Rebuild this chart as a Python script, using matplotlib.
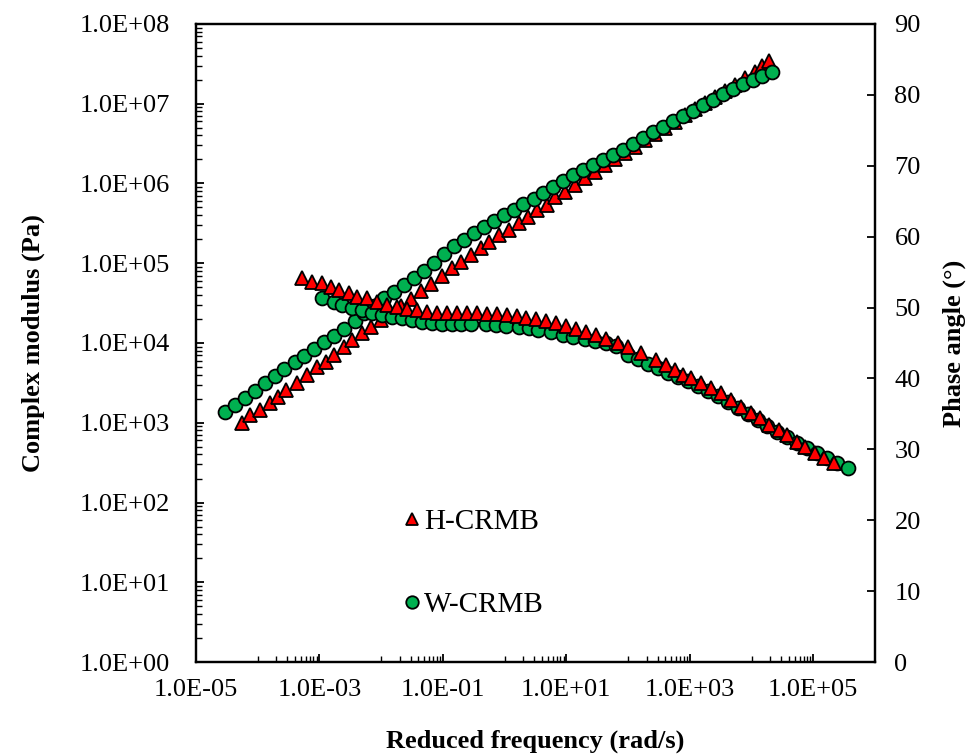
import numpy as np
import matplotlib
matplotlib.use('Agg')
from matplotlib import pyplot as plt
from matplotlib.ticker import FixedLocator, FuncFormatter, MultipleLocator, NullFormatter

plt.rcParams['font.family'] = ['Liberation Serif', 'DejaVu Serif']

# Complex modulus, H-CRMB (rad/s, Pa)
h_freq_g = [5.5e-5, 7.4e-5, 1.08e-4, 1.56e-4, 2.1e-4, 2.9e-4, 4.3e-4, 6.2e-4, 9.0e-4, 1.3e-3,
            1.75e-3, 2.5e-3, 3.4e-3, 4.9e-3, 6.9e-3, 1.0e-2, 1.45e-2, 2.1e-2, 3.05e-2, 4.4e-2,
            6.4e-2, 9.6e-2, 0.14, 0.20, 0.28, 0.41, 0.55, 0.80, 1.16, 1.68,
            2.4, 3.3, 4.8, 6.6, 9.6, 14, 20, 29, 43, 62,
            90, 130, 188, 272, 395, 573, 830, 1200, 1750, 2530,
            3670, 5320, 7700, 11200, 15000, 19500]
h_gstar = [990, 1250, 1450, 1770, 2100, 2580, 3150, 3970, 5000, 5780,
           7080, 8910, 10900, 13300, 15900, 19400, 23800, 29100, 35600, 44900,
           54900, 69200, 87100, 104000, 127000, 155000, 185000, 226000, 261000, 320000,
           380000, 465000, 537000, 677000, 782000, 957000, 1.17e6, 1.39e6, 1.71e6, 2.03e6,
           2.41e6, 2.87e6, 3.51e6, 4.18e6, 4.96e6, 5.90e6, 7.23e6, 8.59e6, 1.02e7, 1.22e7,
           1.45e7, 1.72e7, 2.10e7, 2.50e7, 2.97e7, 3.44e7]

# Complex modulus, W-CRMB
w_freq_g = [2.9e-5, 4.3e-5, 6.2e-5, 8.9e-5, 1.3e-4, 1.9e-4, 2.7e-4, 4.0e-4, 5.7e-4, 8.3e-4,
            1.2e-3, 1.75e-3, 2.5e-3, 3.7e-3, 5.3e-3, 7.7e-3, 1.12e-2, 1.62e-2, 2.35e-2, 3.4e-2,
            4.9e-2, 7.2e-2, 0.104, 0.150, 0.218, 0.316, 0.458, 0.665, 0.964, 1.40,
            2.02, 2.94, 4.26, 6.17, 8.95, 13.0, 18.8, 27.2, 39.5, 57.3,
            83.0, 120, 175, 253, 367, 532, 771, 1120, 1620, 2350,
            3400, 4940, 7160, 10400, 15000, 21800]
w_gstar = [1360, 1670, 2040, 2500, 3150, 3860, 4720, 5780, 6870, 8410,
           10300, 12200, 15000, 18900, 23800, 29100, 36600, 43600, 53400, 65300,
           80000, 101000, 131000, 164000, 196000, 239000, 285000, 339000, 403000, 465000,
           553000, 640000, 760000, 904000, 1.07e6, 1.28e6, 1.48e6, 1.71e6, 1.97e6, 2.28e6,
           2.63e6, 3.13e6, 3.72e6, 4.43e6, 5.11e6, 6.08e6, 7.02e6, 8.11e6, 9.64e6, 1.11e7,
           1.33e7, 1.53e7, 1.77e7, 1.99e7, 2.23e7, 2.50e7]

# Phase angle, H-CRMB (deg)
h_freq_d = [5.3e-4, 7.7e-4, 1.08e-3, 1.56e-3, 2.1e-3, 3.05e-3, 4.1e-3, 5.9e-3, 8.6e-3, 1.25e-2,
            1.81e-2, 2.6e-2, 3.8e-2, 5.5e-2, 8.0e-2, 0.116, 0.168, 0.244, 0.353, 0.513,
            0.743, 1.08, 1.56, 2.26, 3.28, 4.75, 6.9, 10, 14.5, 21,
            30.5, 44, 69, 100, 162, 283, 410, 573, 771, 1040,
            1500, 2180, 3160, 4580, 6650, 9640, 13500, 19500, 28300, 38100,
            55200, 74300, 1.08e5, 1.50e5, 2.18e5]
h_delta = [54.2, 53.6, 53.5, 52.9, 52.5, 52.1, 51.5, 51.3, 50.8, 50.4,
           50.1, 49.8, 49.7, 49.4, 49.2, 49.2, 49.2, 49.2, 49.2, 49.1,
           49.1, 48.9, 48.8, 48.5, 48.4, 48.1, 47.8, 47.4, 47.0, 46.6,
           46.1, 45.6, 45.0, 44.4, 43.6, 42.6, 41.9, 41.2, 40.5, 40.1,
           39.4, 38.7, 37.9, 37.0, 36.0, 35.1, 34.4, 33.4, 32.7, 32.0,
           31.0, 30.3, 29.5, 28.8, 28.1]

# Phase angle, W-CRMB
w_freq_d = [1.12e-3, 1.75e-3, 2.35e-3, 3.4e-3, 4.9e-3, 7.2e-3, 1.04e-2, 1.5e-2, 2.18e-2, 3.16e-2,
            4.6e-2, 6.65e-2, 9.6e-2, 0.14, 0.20, 0.29, 0.49, 0.72, 1.04, 1.68,
            2.44, 3.53, 5.7, 8.95, 13.0, 20.2, 29.4, 44.2, 64, 100,
            145, 210, 305, 442, 640, 929, 1350, 1950, 2830, 4100,
            5940, 8610, 12500, 18100, 26200, 38100, 55200, 80000, 1.16e5, 1.68e5,
            2.44e5, 3.67e5]
w_delta = [51.3, 50.8, 50.4, 49.9, 49.7, 49.2, 48.9, 48.7, 48.5, 48.2,
           48.0, 47.8, 47.7, 47.7, 47.7, 47.7, 47.7, 47.5, 47.4, 47.3,
           47.1, 46.8, 46.6, 46.1, 45.8, 45.6, 45.3, 45.0, 44.6, 43.3,
           42.7, 42.0, 41.5, 40.8, 40.2, 39.6, 38.9, 38.2, 37.5, 36.7,
           35.8, 35.0, 34.1, 33.3, 32.4, 31.7, 30.9, 30.2, 29.5, 28.8,
           28.1, 27.4]

FS = 19
RED = '#FF0000'
GREEN = '#00B050'

fig = plt.figure(figsize=(9.77, 7.56), dpi=100)
ax = fig.add_axes([0.2006, 0.1243, 0.695, 0.844])
ax2 = ax.twinx()

mk = dict(linestyle='none', markeredgecolor='black', markeredgewidth=1.3, markersize=10)
l1, = ax.plot(h_freq_g, h_gstar, marker='^', markerfacecolor=RED, label='H-CRMB', **mk)
l2, = ax.plot(w_freq_g, w_gstar, marker='o', markerfacecolor=GREEN, label='W-CRMB', **mk)
ax2.plot(w_freq_d, w_delta, marker='o', markerfacecolor=GREEN, **mk)
ax2.plot(h_freq_d, h_delta, marker='^', markerfacecolor=RED, **mk)

ax.set_xscale('log')
ax.set_yscale('log')
ax.set_xlim(1e-5, 1e6)
ax.set_ylim(1e0, 1e8)
ax2.set_ylim(0, 90)

sci = FuncFormatter(lambda v, p: '{:.1E}'.format(v))

# x: major every two decades, minor like Excel (1..9 x 10^(k+1))
xmaj = [10.0**k for k in range(-5, 7, 2)]
xmin = [j * 10.0**(k + 1) for k in range(-5, 5, 2) for j in range(1, 10)]
ax.xaxis.set_major_locator(FixedLocator(xmaj))
ax.xaxis.set_minor_locator(FixedLocator(xmin))
ax.xaxis.set_major_formatter(sci)
ax.xaxis.set_minor_formatter(NullFormatter())

ymaj = [10.0**k for k in range(0, 9)]
ymin = [j * 10.0**k for k in range(0, 8) for j in range(2, 10)]
ax.yaxis.set_major_locator(FixedLocator(ymaj))
ax.yaxis.set_minor_locator(FixedLocator(ymin))
ax.yaxis.set_major_formatter(sci)
ax.yaxis.set_minor_formatter(NullFormatter())

ax2.yaxis.set_major_locator(MultipleLocator(10))

ax.tick_params(axis='both', which='major', direction='in', length=6, width=1.3,
               labelsize=FS)
ax.tick_params(axis='both', which='minor', direction='in', length=4, width=1.0)
ax.tick_params(axis='x', which='major', pad=12)
ax.tick_params(axis='y', which='major', pad=18.5)
ax.tick_params(axis='y', which='both', right=False)
ax.tick_params(axis='x', which='both', top=False)
ax2.tick_params(axis='y', which='major', direction='in', length=6, width=1.3,
                labelsize=FS, pad=14)

for a in (ax, ax2):
    for s in a.spines.values():
        s.set_linewidth(1.6)

ax.set_xlabel('Reduced frequency (rad/s)', fontsize=FS, fontweight='bold', labelpad=21)
ax.set_ylabel('Complex modulus (Pa)', fontsize=FS, fontweight='bold', labelpad=25)
ax2.set_ylabel('Phase angle (°)', fontsize=FS, fontweight='bold', labelpad=16)

fig.legend(handles=[l1, l2], loc='center left', bbox_to_anchor=(0.399, 0.2546),
           frameon=False, fontsize=21, handlelength=0.55, handletextpad=0.12,
           labelspacing=1.95, borderpad=0, markerscale=0.9)

plt.savefig('out.png', dpi=100)
